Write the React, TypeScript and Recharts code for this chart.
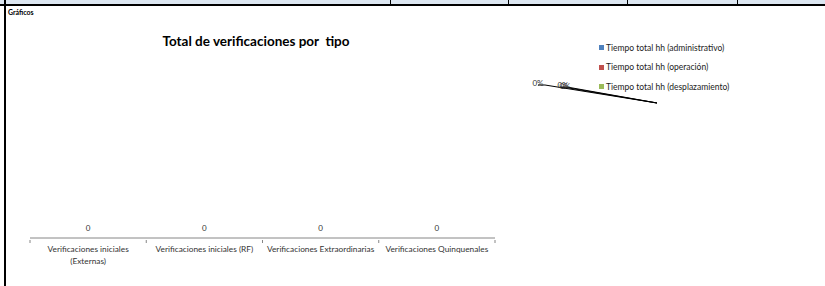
import React from 'react';
import { BarChart, Bar, XAxis, YAxis, LabelList, PieChart, Pie, Legend, Customized } from 'recharts';

const categories = [
  'Verificaciones iniciales (Externas)',
  'Verificaciones iniciales (RF)',
  'Verificaciones Extraordinarias',
  'Verificaciones Quinquenales',
];
const totals = [0, 0, 0, 0];

const pieNames = [
  'Tiempo total hh (administrativo)',
  'Tiempo total hh (operación)',
  'Tiempo total hh (desplazamiento)',
];
const pieValues = [0, 0, 0];
const pieColors = ['#4f81bd', '#c0504d', '#9bbb59'];

const headerCols = [390, 508, 627, 737];

const FONT = 'Lato, "Open Sans", sans-serif';

const barData = categories.map((name, i) => ({ name, value: totals[i] }));
const pieData = pieNames.map((name, i) => ({ name, value: pieValues[i] }));

const BAR_W = 525;
const BAR_MARGIN = { top: 70, right: 30, bottom: 0, left: 30 };
const BAND = (BAR_W - BAR_MARGIN.left - BAR_MARGIN.right) / categories.length;

// long labels go on two lines, like Excel does in the narrow category band
function wrapLabel(s: string) {
  if (s.length <= 31) return [s];
  const cut = s.lastIndexOf(' ');
  return [s.slice(0, cut), s.slice(cut + 1)];
}

function CategoryTick(props: any) {
  const { x, y, payload, index } = props;
  const last = index === categories.length - 1;
  const lines = wrapLabel(payload.value);
  return (
    <g>
      <line x1={x - BAND / 2} y1={y} x2={x - BAND / 2} y2={y + 3} stroke="#868686" />
      {last && <line x1={x + BAND / 2} y1={y} x2={x + BAND / 2} y2={y + 3} stroke="#868686" />}
      <text x={x} y={y + 12} textAnchor="middle" fontSize={8.3} fontFamily={FONT} fill="#333">
        {lines.map((l, i) => (
          <tspan key={i} x={x} dy={i === 0 ? 0 : 12}>
            {l}
          </tspan>
        ))}
      </text>
    </g>
  );
}

function ValueLabel(props: any) {
  const { x, y, width, value } = props;
  return (
    <text x={x + width / 2} y={y - 7} textAnchor="middle" fontSize={8} fontFamily={FONT} fill="#333">
      {value}
    </text>
  );
}

// Excel draws the leader lines of an all-zero pie stacked on top of each other
const leaderOffsets = [
  { dx: -112, dy: -18, lx: -119 },
  { dx: -90, dy: -16, lx: -94 },
  { dx: -88, dy: -15, lx: -92 },
];

function ZeroPieLabels() {
  const cx = 132;
  const cy = 103;
  const total = pieValues.reduce((s, v) => s + v, 0);
  return (
    <g>
      {pieValues.map((v, i) => {
        const o = leaderOffsets[i];
        const pct = total > 0 ? Math.round((v / total) * 100) : 0;
        return (
          <g key={i}>
            <polyline
              points={`${cx},${cy} ${cx + o.dx},${cy + o.dy} ${cx + o.dx - 7},${cy + o.dy}`}
              fill="none"
              stroke="#000"
              strokeWidth={1}
            />
            <text x={cx + o.lx} y={cy + o.dy + 1} textAnchor="middle" fontSize={8} fontFamily={FONT} fill="#333">
              {pct}%
            </text>
          </g>
        );
      })}
    </g>
  );
}

function PieLegend() {
  return (
    <div style={{ fontFamily: FONT, fontSize: 8.5, color: '#222' }}>
      {pieNames.map((n, i) => (
        <div key={n} style={{ display: 'flex', alignItems: 'center', height: 19.5 }}>
          <span style={{ width: 5, height: 5, background: pieColors[i], marginRight: 2, display: 'inline-block' }} />
          <span>{n}</span>
        </div>
      ))}
    </div>
  );
}

export default function App() {
  return (
    <div style={{ position: 'absolute', left: 0, top: 0, width: 825, height: 286, background: '#fff', overflow: 'hidden' }}>
      <div style={{ position: 'absolute', left: 0, top: 0, width: 825, height: 4, background: '#dce6f1' }} />
      <div style={{ position: 'absolute', left: 0, top: 4, width: 825, height: 2, background: '#000' }} />
      {headerCols.map((x) => (
        <div key={x} style={{ position: 'absolute', left: x, top: 0, width: 1, height: 4, background: '#000' }} />
      ))}
      <div style={{ position: 'absolute', left: 4, top: 0, width: 2, height: 286, background: '#000' }} />
      <div style={{ position: 'absolute', left: 8, top: 8, fontFamily: FONT, fontSize: 7, fontWeight: 700, lineHeight: '8px' }}>
        Gráficos
      </div>
      <div
        style={{
          position: 'absolute',
          left: 0,
          width: 512,
          top: 33,
          textAlign: 'center',
          fontFamily: FONT,
          fontSize: 13.5,
          fontWeight: 700,
          color: '#000',
          lineHeight: '17px',
          whiteSpace: 'pre',
        }}
      >
        {'Total de verificaciones por  tipo'}
      </div>
      <div style={{ position: 'absolute', left: 0, top: 0 }}>
        <BarChart width={BAR_W} height={286} data={barData} margin={BAR_MARGIN}>
          <XAxis
            dataKey="name"
            height={48}
            interval={0}
            tickLine={false}
            tickSize={0}
            stroke="#868686"
            tick={<CategoryTick />}
          />
          <YAxis hide domain={[0, 1]} />
          <Bar dataKey="value" fill="#4f81bd" minPointSize={0.001} isAnimationActive={false}>
            <LabelList dataKey="value" content={<ValueLabel />} />
          </Bar>
        </BarChart>
      </div>
      <div style={{ position: 'absolute', left: 525, top: 0 }}>
        <PieChart width={300} height={286}>
          <Pie
            data={pieData}
            dataKey="value"
            nameKey="name"
            cx={132}
            cy={103}
            outerRadius={40}
            isAnimationActive={false}
          />
          <Customized component={ZeroPieLabels} />
          <Legend
            content={<PieLegend />}
            wrapperStyle={{ position: 'absolute', left: 74, top: 38, width: 220 }}
          />
        </PieChart>
      </div>
    </div>
  );
}
